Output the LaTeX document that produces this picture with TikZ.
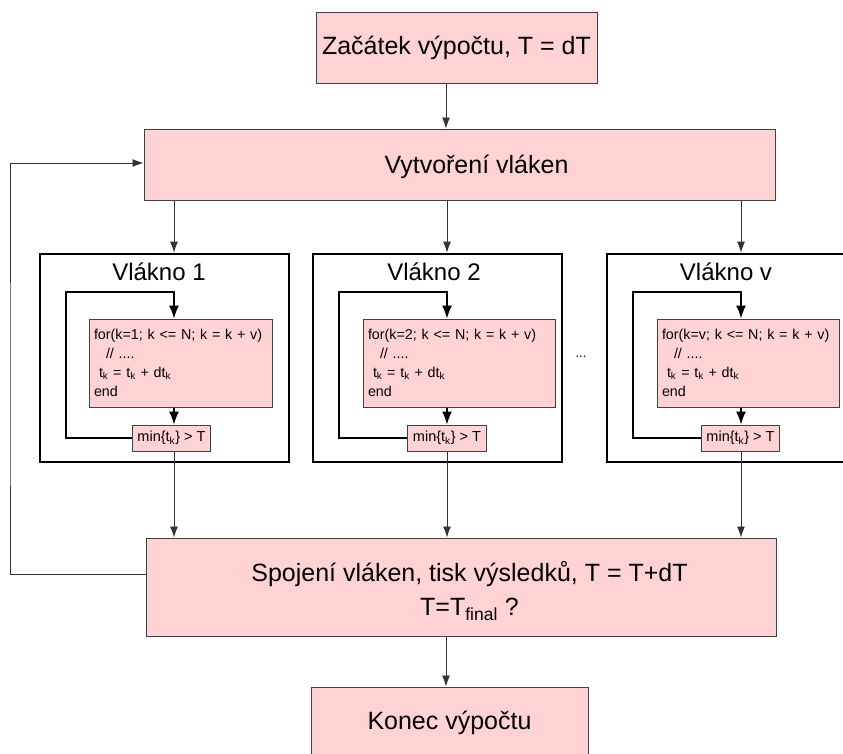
\documentclass[tikz,border=0pt]{standalone}
\usepackage{fontspec}
\setmainfont{Liberation Sans}
\usetikzlibrary{arrows.meta}

\definecolor{ruzova}{RGB}{255,211,211}

\tikzset{
  blok/.style={draw=black!75, fill=ruzova, line width=1pt, inner sep=0pt,
    font=\fontsize{25}{34}\selectfont},
  napis/.style={inner sep=0pt, align=center, font=\fontsize{25}{34}\selectfont},
  kod/.style={draw=black!75, fill=ruzova, line width=1pt, inner xsep=5pt,
    inner ysep=0pt, align=left, minimum height=88pt,
    font=\fontsize{14.3}{19}\selectfont},
  podminka/.style={draw=black!75, fill=ruzova, line width=1pt, inner xsep=5pt,
    inner ysep=0pt, minimum height=26pt, font=\fontsize{14.5}{19}\selectfont},
  ramec/.style={draw=black, line width=2.6pt, inner sep=0pt,
    minimum width=249pt, minimum height=208pt},
  titul/.style={inner sep=0pt, font=\fontsize{24}{28}\selectfont},
  sipka/.style={draw=black!80, line width=0.9pt, -{Latex[length=11pt,width=8pt]}},
  smycka/.style={draw=black, line width=1.4pt, -{Latex[length=13pt,width=10pt]}},
}

\begin{document}
\begin{tikzpicture}[x=1pt,y=-1pt]

\clip
(0,0)
rectangle
(843,753);

% Osy
\coordinate (osa) at (446,0);
\coordinate (s1) at (174,0);
\coordinate (s2) at (447,0);
\coordinate (s3) at (741,0);
\coordinate (smycka1) at (66,292);
\coordinate (smycka2) at (339,292);
\coordinate (smycka3) at (633,292);
\coordinate (obrat) at (10,400);

% Začátek
\node[blok,
minimum width=281pt,
minimum height=71pt]
(zacatek) at (456.5,47.5)
{Začátek výpočtu, T = dT};

% Vytvoření vláken
\node[blok,
minimum width=631pt,
minimum height=71pt]
(vytvoreni) at (459.5,164.5)
{};

\node[napis]
(vytvoreniText) at (476.5,166.5)
{Vytvoření vláken};

\draw[sipka]
(zacatek.south -| osa)
--
(vytvoreni.north -| osa);

% Vlákno 1
\node[ramec]
(vlakno1) at (164.5,358)
{};

\node[titul]
(titul1) at (159,272)
{Vlákno 1};

\node[kod,
text width=173pt]
(for1) at (180.5,363)
{for(k=1; k <= N; k = k + v)\\
\hspace*{12pt}// ....\\
\hspace*{5pt}t\textsubscript{k} = t\textsubscript{k} + dt\textsubscript{k}\\
end};

\node[podminka]
(min1) at (171.5,438)
{min\{t\textsubscript{k}\} > T};

% Vlákno 2
\node[ramec]
(vlakno2) at (437.5,358)
{};

\node[titul]
(titul2) at (434,272)
{Vlákno 2};

\node[kod,
text width=182pt]
(for2) at (459,363)
{for(k=2; k <= N; k = k + v)\\
\hspace*{12pt}// ....\\
\hspace*{5pt}t\textsubscript{k} = t\textsubscript{k} + dt\textsubscript{k}\\
end};

\node[podminka]
(min2) at (447,438)
{min\{t\textsubscript{k}\} > T};

% Tečky mezi vlákny
\node[font=\fontsize{13}{15}\selectfont]
(tecky) at (581,357)
{...};

% Vlákno v
\node[ramec]
(vlakno3) at (731.5,358)
{};

\node[titul]
(titul3) at (726,272)
{Vlákno v};

\node[kod,
text width=172pt]
(for3) at (748,363)
{for(k=v; k <= N; k = k + v)\\
\hspace*{12pt}// ....\\
\hspace*{5pt}t\textsubscript{k} = t\textsubscript{k} + dt\textsubscript{k}\\
end};

\node[podminka]
(min3) at (740.5,438)
{min\{t\textsubscript{k}\} > T};

% Spojení vláken
\node[blok,
minimum width=630pt,
minimum height=98pt]
(spojeni) at (461,587)
{};

\node[napis]
(spojeniText) at (469.5,591)
{Spojení vláken, tisk výsledků, T = T+dT\\
T=T\textsubscript{final} ?};

% Konec
\node[blok,
minimum width=277pt,
minimum height=71pt]
(konec) at (449.5,722.5)
{Konec výpočtu};

% Rozdělení do vláken
\draw[sipka]
(vytvoreni.south -| s1)
--
(vlakno1.north -| s1);

\draw[sipka]
(vytvoreni.south -| s2)
--
(vlakno2.north -| s2);

\draw[sipka]
(vytvoreni.south -| s3)
--
(vlakno3.north -| s3);

% Smyčky uvnitř vláken
\draw[smycka]
(for1.south -| s1)
--
(min1.north -| s1);

\draw[smycka]
(min1.west)
-|
(smycka1)
-|
(for1.north -| s1);

\draw[smycka]
(for2.south -| s2)
--
(min2.north -| s2);

\draw[smycka]
(min2.west)
-|
(smycka2)
-|
(for2.north -| s2);

\draw[smycka]
(for3.south -| s3)
--
(min3.north -| s3);

\draw[smycka]
(min3.west)
-|
(smycka3)
-|
(for3.north -| s3);

% Spojení
\draw[sipka]
(min1.south -| s1)
--
(spojeni.north -| s1);

\draw[sipka]
(min2.south -| s2)
--
(spojeni.north -| s2);

\draw[sipka]
(min3.south -| s3)
--
(spojeni.north -| s3);

% Návrat na další krok
\draw[sipka]
([yshift=13pt]spojeni.west)
-|
(obrat)
|-
([yshift=1.5pt]vytvoreni.west);

\draw[sipka]
(spojeni.south -| osa)
--
(konec.north -| osa);

\end{tikzpicture}
\end{document}
